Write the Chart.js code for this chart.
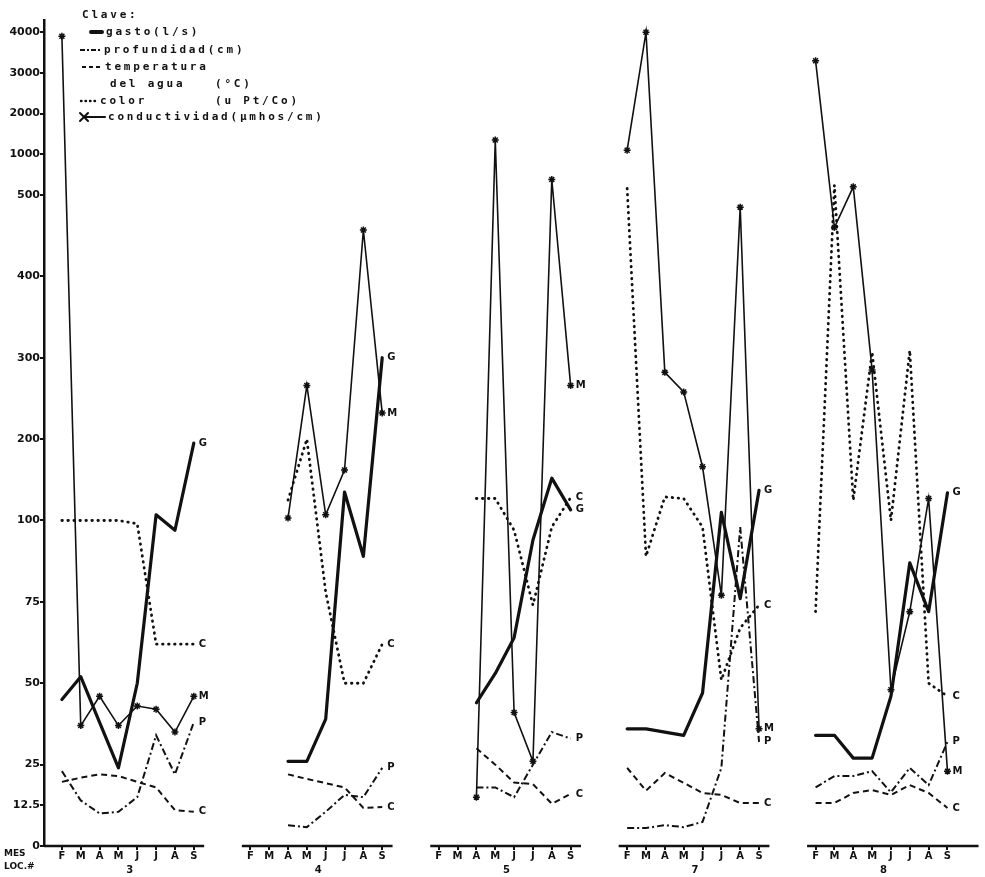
<!DOCTYPE html>
<html>
<head>
<meta charset="utf-8">
<script src="https://cdn.jsdelivr.net/npm/chart.js@4.4.0/dist/chart.umd.min.js"></script>
<style>
  html, body { margin: 0; padding: 0; background: #fff; }
  #wrap { width: 985px; height: 877px; position: relative; }
</style>
</head>
<body>
<div id="wrap"><canvas id="chart"></canvas></div>
<script>
// Estaciones y meses (F..S) de cada estación
const locations = ['3', '4', '5', '7', '8'];
const months = ['F', 'M', 'A', 'M', 'J', 'J', 'A', 'S'];

// Marcas del eje vertical (escala quebrada)
const yTicks = [0, 12.5, 25, 50, 75, 100, 200, 300, 400, 500, 1000, 2000, 3000, 4000];

// Valores por estación, en el orden de locations; cada fila F M A M J J A S
const gasto = [
    [45, 52, 38, 24, 50, 107, 97, 195],
    [null, null, 26, 26, 39, 135, 89, 300],
    [null, null, 44, 53, 64, 94, 152, 113],
    [36, 36, 35, 34, 47, 110, 76, 137],
    [34, 34, 27, 27, 46, 87, 72, 134]
];
const profundidad = [
    [23, 14, 10, 10.5, 15, 34, 22, 38],
    [null, null, 6.4, 5.8, 10.5, 15.7, 15, 24],
    [null, null, 18, 18, 15, 25, 35, 33],
    [5.5, 5.5, 6.4, 5.8, 7.4, 24, 98, 32],
    [18, 21.5, 21.5, 23, 16.5, 24, 18.7, 32]
];
const temperatura = [
    [19.7, 21, 22, 21.5, 19.7, 18, 11, 10.5],
    [null, null, 22, 20.6, 19.3, 18, 11.7, 12],
    [null, null, 30, 25, 19.5, 19, 13, 16],
    [24, 17, 22.4, 19.4, 16.3, 15.7, 13.2, 13.2],
    [13.2, 13.2, 16.3, 17.2, 15.7, 18.7, 16.3, 11.7]
];
const color = [
    [100, 100, 100, 100, 99, 62, 62, 62],
    [null, null, 125, 200, 78, 50, 50, 62],
    [null, null, 127, 127, 97, 74, 98, 128],
    [580, 89, 129, 127, 98, 51, 67, 74],
    [72, 620, 125, 307, 100, 309, 50, 46]
];
const conductividad = [
    [3900, 37, 46, 37, 43, 42, 35, 46],
    [null, null, 103, 266, 107, 162, 457, 232],
    [null, null, 15, 1350, 41, 26, 690, 266],
    [1100, 4000, 282, 258, 166, 77, 485, 36],
    [3300, 460, 600, 285, 48, 72, 127, 23]
];

const INK = '#111';

// where each tick sits on the broken axis (in steps)
const yStops = [0, 0.5, 1, 2, 3, 4, 5, 6, 7, 8, 8.5, 9, 9.5, 10];
const yTop = 10.15;

function toStop(v) {
    if (v <= yTicks[0]) return yStops[0];
    for (let i = 1; i < yTicks.length; i++) {
        if (v <= yTicks[i]) {
            const t = (v - yTicks[i - 1]) / (yTicks[i] - yTicks[i - 1]);
            return yStops[i - 1] + t * (yStops[i] - yStops[i - 1]);
        }
    }
    return yStops[yStops.length - 1];
}

function fromStop(s) {
    if (s <= yStops[0]) return yTicks[0];
    for (let i = 1; i < yStops.length; i++) {
        if (s <= yStops[i]) {
            const t = (s - yStops[i - 1]) / (yStops[i] - yStops[i - 1]);
            return yTicks[i - 1] + t * (yTicks[i] - yTicks[i - 1]);
        }
    }
    return yTicks[yTicks.length - 1];
}

class BrokenScale extends Chart.Scale {
    determineDataLimits() {
        this.min = 0;
        this.max = 4000;
    }
    buildTicks() {
        return yTicks.map(v => ({ value: v }));
    }
    getLabelForValue(v) {
        return String(v);
    }
    getPixelForValue(v) {
        if (v === null || v === undefined || isNaN(v)) return NaN;
        return this.getPixelForDecimal(toStop(v) / yTop);
    }
    getValueForPixel(p) {
        return fromStop(this.getDecimalForPixel(p) * yTop);
    }
}
BrokenScale.id = 'broken';
BrokenScale.defaults = {};
Chart.register(BrokenScale);

// each station takes 10 slots on the x axis: 8 months + a gap
function points(series) {
    const out = [];
    series.forEach((vals, g) => {
        vals.forEach((v, m) => out.push({ x: g * 10 + m, y: v }));
        out.push({ x: g * 10 + 8, y: null });
    });
    return out;
}

const monthTicks = [];
locations.forEach((loc, g) => months.forEach((m, i) => monthTicks.push(g * 10 + i)));
const groupTicks = locations.map((loc, g) => g * 10 + 3.6);

const endLetters = ['G', 'P', 'C', 'C', 'M'];
const seriesList = [gasto, profundidad, temperatura, color, conductividad];

const inkPlugin = {
    id: 'ink',
    beforeDatasetsDraw(chart) {
        const ctx = chart.ctx;
        const xs = chart.scales.x;
        const area = chart.chartArea;
        ctx.save();
        ctx.strokeStyle = INK;
        ctx.lineWidth = 2.5;
        locations.forEach((loc, g) => {
            const a = g === 0 ? area.left : xs.getPixelForValue(g * 10 - 0.45);
            const b = g === locations.length - 1 ? xs.getPixelForValue(g * 10 + 8.65) : xs.getPixelForValue(g * 10 + 7.55);
            ctx.beginPath();
            ctx.moveTo(a, area.bottom);
            ctx.lineTo(b, area.bottom);
            ctx.stroke();
        });
        ctx.restore();
    },
    afterDatasetsDraw(chart) {
        const ctx = chart.ctx;
        ctx.save();
        ctx.fillStyle = INK;
        ctx.font = 'bold 10px "DejaVu Sans"';
        ctx.textBaseline = 'middle';
        ctx.textAlign = 'left';
        seriesList.forEach((series, d) => {
            const meta = chart.getDatasetMeta(d);
            series.forEach((vals, g) => {
                for (let m = vals.length - 1; m >= 0; m--) {
                    if (vals[m] !== null) {
                        const pt = meta.data[g * 9 + m];
                        ctx.fillText(endLetters[d], pt.x + 5, pt.y);
                        break;
                    }
                }
            });
        });

        // MES / LOC.# under the axis
        ctx.font = 'bold 9px "DejaVu Sans"';
        ctx.fillText('MES', 4, 854);
        ctx.fillText('LOC.#', 4, 867);

        // Clave (legend)
        ctx.font = 'bold 11px "DejaVu Sans Mono"';
        ctx.letterSpacing = '2.8px';
        const rows = [
            ['Clave:', 82, 15],
            ['gasto(l/s)', 106, 32],
            ['profundidad(cm)', 104, 50],
            ['temperatura', 105, 67],
            ['del agua', 110, 84],
            ['(°C)', 215, 84],
            ['color', 100, 101],
            ['(u Pt/Co)', 215, 101],
            ['conductividad(µmhos/cm)', 108, 117]
        ];
        rows.forEach(r => ctx.fillText(r[0], r[1], r[2]));
        ctx.letterSpacing = '0px';

        ctx.strokeStyle = INK;
        ctx.lineCap = 'round';
        ctx.lineWidth = 4;
        ctx.beginPath(); ctx.moveTo(91, 32); ctx.lineTo(102, 32); ctx.stroke();
        ctx.lineCap = 'butt';
        ctx.lineWidth = 2;
        ctx.setLineDash([5, 2, 2, 2]);
        ctx.beginPath(); ctx.moveTo(80, 50); ctx.lineTo(101, 50); ctx.stroke();
        ctx.setLineDash([4, 3]);
        ctx.beginPath(); ctx.moveTo(82, 67); ctx.lineTo(101, 67); ctx.stroke();
        ctx.lineCap = 'round';
        ctx.lineWidth = 2.4;
        ctx.setLineDash([0.5, 4]);
        ctx.beginPath(); ctx.moveTo(81, 101); ctx.lineTo(99, 101); ctx.stroke();
        ctx.setLineDash([]);
        ctx.lineWidth = 2;
        ctx.beginPath(); ctx.moveTo(84, 117); ctx.lineTo(105, 117); ctx.stroke();
        ctx.beginPath();
        ctx.moveTo(80, 113); ctx.lineTo(88, 121);
        ctx.moveTo(80, 121); ctx.lineTo(88, 113);
        ctx.stroke();
        ctx.restore();
    }
};

const chart = new Chart(document.getElementById('chart'), {
    type: 'line',
    data: {
        datasets: [
            {
                label: 'gasto(l/s)',
                data: points(gasto),
                borderColor: INK,
                borderWidth: 3.2,
                borderCapStyle: 'round',
                borderJoinStyle: 'round',
                pointRadius: 0
            },
            {
                label: 'profundidad(cm)',
                data: points(profundidad),
                borderColor: INK,
                borderWidth: 2,
                borderDash: [7, 3, 2, 3],
                pointRadius: 0
            },
            {
                label: 'temperatura del agua (°C)',
                data: points(temperatura),
                borderColor: INK,
                borderWidth: 2,
                borderDash: [6, 4],
                pointRadius: 0
            },
            {
                label: 'color (u Pt/Co)',
                data: points(color),
                borderColor: INK,
                borderWidth: 2.8,
                borderDash: [0.5, 5.5],
                borderCapStyle: 'round',
                pointRadius: 0
            },
            {
                label: 'conductividad(µmhos/cm)',
                data: points(conductividad),
                borderColor: INK,
                borderWidth: 1.6,
                pointStyle: 'star',
                pointRadius: 3.5,
                pointBorderWidth: 1.5,
                pointBorderColor: INK,
                pointBackgroundColor: INK
            }
        ]
    },
    options: {
        responsive: true,
        maintainAspectRatio: false,
        animation: false,
        spanGaps: false,
        layout: { padding: { top: 20, right: 0, bottom: 0, left: 0 } },
        elements: { line: { tension: 0 } },
        plugins: {
            legend: { display: false },
            tooltip: { enabled: false }
        },
        scales: {
            x: {
                type: 'linear',
                min: -0.95,
                max: 48.7,
                weight: 0,
                afterBuildTicks: axis => { axis.ticks = monthTicks.map(v => ({ value: v })); },
                afterFit: axis => { axis.height = 18; },
                ticks: {
                    autoSkip: false,
                    maxRotation: 0,
                    padding: 0,
                    color: INK,
                    font: { family: 'DejaVu Sans', size: 10, weight: 'bold' },
                    callback: v => months[Math.round(v) % 10] || ''
                },
                grid: { drawOnChartArea: false, drawTicks: true, tickLength: 4, color: INK, lineWidth: 2 },
                border: { display: false }
            },
            x2: {
                type: 'linear',
                position: 'bottom',
                min: -0.95,
                max: 48.7,
                weight: 1,
                afterBuildTicks: axis => { axis.ticks = groupTicks.map(v => ({ value: v })); },
                afterFit: axis => { axis.height = 13; },
                ticks: {
                    autoSkip: false,
                    maxRotation: 0,
                    padding: 0,
                    color: INK,
                    font: { family: 'DejaVu Sans', size: 10, weight: 'bold' },
                    callback: v => locations[groupTicks.indexOf(v)] || ''
                },
                grid: { display: false, drawTicks: false, tickLength: 0 },
                border: { display: false }
            },
            y: {
                type: 'broken',
                position: 'left',
                afterFit: axis => { axis.width = 44; },
                ticks: {
                    padding: 0,
                    color: INK,
                    font: { family: 'DejaVu Sans', size: 11, weight: 'bold' },
                    callback: v => String(v)
                },
                grid: { drawOnChartArea: false, drawTicks: true, tickLength: 4, color: INK, lineWidth: 2 },
                border: { display: true, color: INK, width: 2.5 }
            }
        }
    },
    plugins: [inkPlugin]
});
</script>
</body>
</html>
